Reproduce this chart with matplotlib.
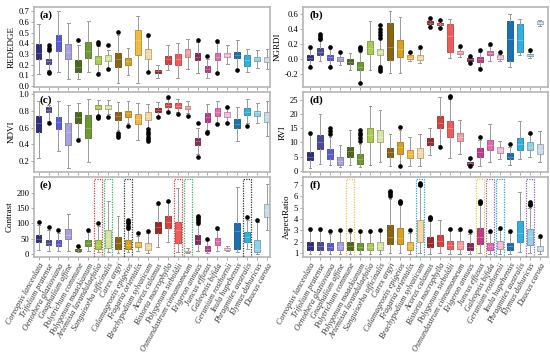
import numpy as np
import matplotlib.pyplot as plt
from matplotlib.colors import to_rgb

plt.rcParams['font.family'] = ['Liberation Serif', 'DejaVu Serif']

species = ["Coreopsis lanceolata", "Trifolium pratense", "Oenothera glazioviana",
           "Gnaphalium affine", "Polytrichum commune", "Polygonum maackianum",
           "Artemisia lavandulaefolia", "Sanguisorba officinalis", "Carex argyi",
           "Calamagrostis epigeios", "Fragaria orientalis", "Brachypodium sylvaticum",
           "Acorus calamus", "Bistorta macrophylla", "Polygonum sieboldii",
           "Osmundastrum cinnamomeum", "Erigeron annuus", "Juncus effusus",
           "Galeopsis bifida", "Geranium rosthornii", "Inula hupehensis",
           "Phragmites australis", "Elymus dahuricus", "Daucus carota"]

colors = ["#2e2f7f", "#4b4a99", "#5a5ad6", "#a8a0e0", "#4a6a1e", "#6a9a30",
          "#a8cc50", "#d4e6a0", "#8a6414", "#d6a020", "#f5b842", "#f8d8a0",
          "#a02828", "#d84040", "#f05a5a", "#f8a0a0", "#8a2a5a", "#c03a8a",
          "#e868b0", "#f8b8d8", "#1a70b0", "#30b0e0", "#90d0e8", "#c8dce8"]

# (whisker low, q1, median, q3, whisker high)
rededge = [(0.11, 0.25, 0.31, 0.39, 0.58), (0.15, 0.21, 0.23, 0.25, 0.33), (0.13, 0.33, 0.42, 0.48, 0.70),
           (0.06, 0.25, 0.32, 0.39, 0.59), (0.06, 0.13, 0.18, 0.24, 0.38), (0.13, 0.26, 0.33, 0.41, 0.61),
           (0.13, 0.21, 0.25, 0.28, 0.37), (0.17, 0.23, 0.26, 0.29, 0.34), (0.03, 0.18, 0.25, 0.31, 0.48),
           (0.10, 0.20, 0.23, 0.26, 0.36), (0.03, 0.29, 0.43, 0.52, 0.66), (0.13, 0.25, 0.30, 0.35, 0.46),
           (0.07, 0.12, 0.14, 0.15, 0.20), (0.15, 0.21, 0.25, 0.28, 0.38), (0.07, 0.20, 0.25, 0.30, 0.40),
           (0.16, 0.27, 0.32, 0.35, 0.44), (0.12, 0.24, 0.27, 0.31, 0.41), (0.07, 0.13, 0.16, 0.19, 0.25),
           (0.13, 0.24, 0.27, 0.31, 0.40), (0.21, 0.27, 0.29, 0.31, 0.38), (0.16, 0.26, 0.29, 0.32, 0.43),
           (0.13, 0.19, 0.24, 0.29, 0.35), (0.17, 0.23, 0.26, 0.27, 0.34), (0.16, 0.22, 0.24, 0.27, 0.35)]
rededge_out = [[], [0.34, 0.36, 0.38, 0.12, 0.13], [], [], [0.43], [], [0.39, 0.41, 0.11], [0.38, 0.16],
               [0.51], [], [], [0.48, 0.13], [], [], [], [], [0.43], [0.28], [0.42, 0.12], [], [0.15],
               [], [], []]

ngrdi = [(-0.08, -0.01, 0.02, 0.05, 0.13), (-0.02, 0.06, 0.10, 0.14, 0.24), (-0.08, -0.01, 0.03, 0.06, 0.13),
         (-0.08, -0.02, 0.01, 0.03, 0.09), (-0.14, -0.07, -0.04, 0.00, 0.08), (-0.30, -0.15, -0.10, -0.04, 0.10),
         (-0.14, 0.07, 0.15, 0.24, 0.50), (-0.08, 0.05, 0.09, 0.13, 0.26), (-0.19, -0.01, 0.16, 0.48, 0.64),
         (-0.19, 0.03, 0.13, 0.25, 0.56), (-0.02, 0.00, 0.02, 0.05, 0.08), (-0.05, -0.01, 0.02, 0.06, 0.13),
         (0.45, 0.47, 0.48, 0.50, 0.52), (0.43, 0.45, 0.46, 0.48, 0.50), (0.02, 0.10, 0.30, 0.46, 0.53),
         (0.03, 0.07, 0.09, 0.11, 0.14), (-0.04, -0.02, 0.00, 0.01, 0.03), (-0.10, -0.04, 0.00, 0.03, 0.10),
         (-0.02, 0.05, 0.08, 0.11, 0.17), (-0.03, 0.00, 0.02, 0.05, 0.07), (-0.10, -0.02, 0.26, 0.51, 0.60),
         (0.05, 0.10, 0.25, 0.46, 0.53), (0.01, 0.04, 0.05, 0.07, 0.10), (0.44, 0.46, 0.48, 0.50, 0.52)]
ngrdi_out = [[0.16, -0.11], [0.26, 0.28, 0.30, 0.33], [0.16, -0.10], [0.10], [], [0.12, 0.14, 0.16, -0.32],
             [], [0.28, 0.32, 0.36, 0.40, 0.45, -0.10, -0.13, -0.16], [], [], [0.10], [0.16],
             [0.54, 0.43], [0.52, 0.41], [], [0.17], [0.04, -0.05], [0.12, -0.13], [0.20], [0.09], [],
             [], [0.12], []]

ndvi = [(0.24, 0.55, 0.65, 0.74, 0.92), (0.68, 0.78, 0.81, 0.84, 0.87), (0.32, 0.58, 0.67, 0.73, 0.92),
        (0.12, 0.39, 0.55, 0.65, 0.87), (0.48, 0.66, 0.72, 0.78, 0.89), (0.19, 0.47, 0.60, 0.75, 0.94),
        (0.75, 0.82, 0.85, 0.87, 0.93), (0.76, 0.82, 0.84, 0.87, 0.93), (0.57, 0.69, 0.74, 0.78, 0.90),
        (0.65, 0.72, 0.77, 0.80, 0.91), (0.45, 0.64, 0.70, 0.76, 0.89), (0.60, 0.69, 0.74, 0.78, 0.88),
        (0.74, 0.79, 0.81, 0.83, 0.90), (0.80, 0.85, 0.87, 0.89, 0.94), (0.78, 0.83, 0.86, 0.89, 0.94),
        (0.77, 0.82, 0.84, 0.86, 0.92), (0.29, 0.39, 0.44, 0.48, 0.60), (0.57, 0.67, 0.72, 0.77, 0.88),
        (0.66, 0.74, 0.79, 0.83, 0.91), (0.66, 0.72, 0.75, 0.78, 0.84), (0.44, 0.59, 0.64, 0.70, 0.85),
        (0.65, 0.75, 0.79, 0.83, 0.94), (0.66, 0.74, 0.78, 0.80, 0.89), (0.50, 0.67, 0.73, 0.79, 0.91)]
ndvi_out = [[], [0.65], [], [], [0.45], [], [0.71, 0.72, 0.74], [0.73], [0.49, 0.51, 0.53], [0.62], [],
            [0.44, 0.46, 0.49, 0.52, 0.55, 0.58], [0.72], [0.96, 0.78], [0.76], [0.74], [0.65, 0.25],
            [0.53, 0.55], [0.64], [0.85, 0.65], [], [0.62], [], []]

rvi = [(1.0, 3.8, 5.0, 6.8, 12.5), (2.5, 7.8, 10.0, 12.8, 20.0), (2.0, 4.0, 6.0, 7.8, 12.0),
       (1.2, 2.2, 3.5, 5.0, 9.0), (2.0, 5.0, 7.0, 8.5, 14.5), (1.3, 2.5, 4.0, 5.8, 9.5),
       (2.0, 10.0, 12.5, 15.0, 23.0), (3.0, 10.0, 12.0, 14.5, 21.5), (1.5, 5.0, 6.5, 8.0, 13.0),
       (2.0, 6.0, 8.5, 10.0, 14.5), (1.5, 4.5, 6.0, 7.5, 12.0), (1.5, 4.5, 6.5, 8.0, 13.0),
       (5.5, 9.0, 10.0, 11.5, 15.0), (9.0, 15.0, 17.0, 19.5, 26.0), (4.5, 12.0, 15.0, 17.5, 25.5),
       (6.0, 10.5, 12.0, 13.5, 18.0), (1.8, 2.2, 2.6, 3.0, 4.0), (1.5, 5.0, 6.5, 8.0, 11.0),
       (3.0, 7.5, 9.0, 11.0, 16.5), (4.3, 6.2, 7.3, 8.3, 10.5), (2.0, 4.2, 5.0, 6.2, 8.5),
       (4.0, 7.5, 9.5, 11.5, 17.5), (5.0, 7.5, 8.5, 10.0, 13.0), (3.2, 5.8, 7.5, 9.5, 14.0)]
rvi_out = [[13.5], [], [13.0, 14.0, 15.0], [], [], [10.5, 11.5, 12.5, 13.5, 14.5], [], [], [],
           [15.5, 1.8], [], [], [], [8.5], [26.0, 26.4], [], [4.5, 1.5], [12.0], [], [], [9.5], [],
           [13.5], []]

contrast = [(12, 40, 50, 62, 95), (10, 28, 37, 47, 80), (10, 25, 34, 45, 70), (8, 48, 62, 83, 130),
            (5, 9, 13, 16, 22), (8, 25, 35, 45, 72), (5, 15, 30, 45, 90), (5, 18, 48, 80, 175),
            (3, 15, 35, 57, 125), (5, 15, 28, 45, 80), (10, 23, 32, 40, 60), (3, 12, 22, 37, 70),
            (22, 70, 88, 105, 160), (40, 85, 105, 123, 170), (5, 35, 80, 105, 215), (3, 6, 9, 11, 18),
            (8, 32, 47, 62, 95), (3, 8, 16, 25, 45), (8, 30, 42, 52, 80), (8, 12, 16, 20, 25),
            (5, 15, 75, 102, 220), (15, 40, 57, 72, 110), (0, 5, 15, 47, 105), (80, 122, 145, 165, 230)]
contrast_out = [[103], [88], [77], [], [27], [80], [100], [], [], [85, 92, 100, 105, 110], [67], [76],
                [168], [175], [], [], [100, 108, 115, 120, 125], [50], [85], [], [], [120], [112], []]

aspect = [(0.9, 1.3, 1.6, 2.0, 2.9), (0.9, 1.3, 1.6, 2.0, 2.9), (0.9, 1.25, 1.5, 1.9, 2.7),
          (0.9, 1.3, 1.6, 2.0, 2.9), (0.9, 1.3, 1.6, 2.0, 2.8), (0.9, 1.3, 1.55, 1.9, 2.8),
          (0.9, 1.3, 1.55, 1.9, 2.8), (0.9, 1.3, 1.6, 1.95, 2.9), (1.0, 1.75, 2.4, 3.45, 5.8),
          (1.0, 1.75, 2.3, 3.2, 5.2), (0.9, 1.3, 1.6, 1.95, 2.8), (1.0, 2.0, 2.8, 3.95, 6.9),
          (0.95, 1.5, 1.9, 2.4, 3.8), (1.0, 1.6, 2.1, 2.6, 3.9), (0.9, 1.35, 1.7, 2.1, 3.0),
          (0.9, 1.35, 1.7, 2.05, 2.9), (0.9, 1.25, 1.55, 1.9, 2.7), (1.0, 1.8, 2.4, 3.2, 5.2),
          (0.9, 1.3, 1.6, 1.9, 2.8), (0.9, 1.35, 1.7, 2.1, 3.0), (0.9, 1.3, 1.6, 1.9, 2.8),
          (1.05, 2.0, 2.8, 3.8, 6.4), (1.0, 1.7, 2.5, 3.1, 5.0), (0.9, 1.15, 1.4, 1.6, 2.3)]
aspect_out = [[3.1], [3.1], [2.9], [3.05], [3.0], [2.95], [2.95], [3.05], [6.0, 6.2, 6.4, 6.5],
              [5.4, 5.5, 5.6], [3.05], [7.0, 7.1, 7.2], [4.0, 4.1, 4.2], [], [3.15], [3.1], [2.9],
              [5.4, 5.5, 5.6], [2.95], [3.2], [2.95], [], [5.2, 5.35, 5.5], [2.5]]

# highlighted species pairs (index, colour)
contrast_marks = [(7, "#e03c3c"), (15, "#e03c3c"), (8, "#2fb36a"), (16, "#2fb36a"), (10, "#333333"), (22, "#333333")]
aspect_marks = [(5, "#f2c23c"), (18, "#f2c23c"), (12, "#2aa6d6"), (20, "#2aa6d6"), (19, "#9a5cc8"), (23, "#9a5cc8")]

panels = [
    ("(a)", "REDEDGE", rededge, rededge_out, (-0.01, 0.74), np.arange(0, 0.71, 0.1), "%.1f", []),
    ("(b)", "NGRDI", ngrdi, ngrdi_out, (-0.37, 0.69), np.arange(-0.2, 0.61, 0.2), "%.1f", []),
    ("(c)", "NDVI", ndvi, ndvi_out, (0.07, 1.02), np.arange(0.2, 1.01, 0.2), "%.1f", []),
    ("(d)", "RVI", rvi, rvi_out, (-0.5, 27.8), np.arange(0, 26, 5), "%d", []),
    ("(e)", "Contrast", contrast, contrast_out, (-10, 252), np.arange(0, 201, 50), "%d", contrast_marks),
    ("(f)", "AspectRatio", aspect, aspect_out, (0.65, 7.7), np.arange(1, 8, 1), "%d", aspect_marks),
]

positions = [[0.062, 0.753, 0.429, 0.227], [0.551, 0.753, 0.445, 0.227],
             [0.062, 0.511, 0.429, 0.227], [0.551, 0.511, 0.445, 0.227],
             [0.062, 0.270, 0.429, 0.227], [0.551, 0.270, 0.445, 0.227]]


def shade(c, f):
    r = np.array(to_rgb(c))
    if f < 1:
        return tuple(r * f)
    return tuple(r + (1 - r) * (f - 1))


fig = plt.figure(figsize=(5.5, 3.52), dpi=100)
x = np.arange(1, len(species) + 1)

for k, (tag, ylab, st, out, ylim, yt, fmt, marks) in enumerate(panels):
    ax = fig.add_axes(positions[k])
    stats = []
    for i in range(len(species)):
        lo, q1, med, q3, hi = st[i]
        stats.append({"whislo": lo, "q1": q1, "med": med, "q3": q3, "whishi": hi, "fliers": out[i]})
    bp = ax.bxp(stats, positions=x, widths=0.58, patch_artist=True, showfliers=True,
                whiskerprops=dict(color="#9a9a9a", lw=0.7),
                capprops=dict(color="#9a9a9a", lw=0.7),
                flierprops=dict(marker="o", markerfacecolor="black", markeredgecolor="black",
                                markersize=2.3, linestyle="none"))
    for i, b in enumerate(bp["boxes"]):
        b.set_facecolor(colors[i])
        b.set_edgecolor(shade(colors[i], 0.75))
        b.set_linewidth(0.6)
        bp["medians"][i].set_color(shade(colors[i], 1.35))
        bp["medians"][i].set_linewidth(0.5)
    span = ylim[1] - ylim[0]
    for i, c in marks:
        y0 = ylim[0] + 0.005 * span
        y1 = ylim[1] - 0.03 * span
        ax.plot([i - 0.4, i + 0.4, i + 0.4, i - 0.4, i - 0.4], [y0, y0, y1, y1, y0],
                color=c, ls=(0, (1, 1)), lw=0.9, zorder=5)
    if k % 2 == 0:
        ax.set_xlim(0.55, 24.3)
    else:
        ax.set_xlim(0.3, 24.8)
    ax.set_ylim(*ylim)
    ax.set_yticks(yt)
    ax.set_yticklabels([fmt % v if abs(v) > 1e-9 else ("0.0" if fmt == "%.1f" else "0") for v in yt])
    ax.set_xticks(x)
    ax.tick_params(axis="both", direction="out", length=2, width=0.5, color="#888888", pad=1.5)
    ax.tick_params(axis="y", labelsize=6.2)
    if k >= 4:
        ax.set_xticklabels(species, rotation=61, ha="right", rotation_mode="anchor",
                           fontsize=5.9, style="italic", color="#333333")
    else:
        ax.set_xticklabels([])
    ax.set_ylabel(ylab, fontsize=6.5, labelpad=2)
    for s in ax.spines.values():
        s.set_color("#b5b5b5")
        s.set_linewidth(1.2)
    ax.text(0.025, 0.96, tag, transform=ax.transAxes, fontsize=8, fontweight="bold",
            va="top", ha="left")

fig.savefig("out.png", dpi=100)
